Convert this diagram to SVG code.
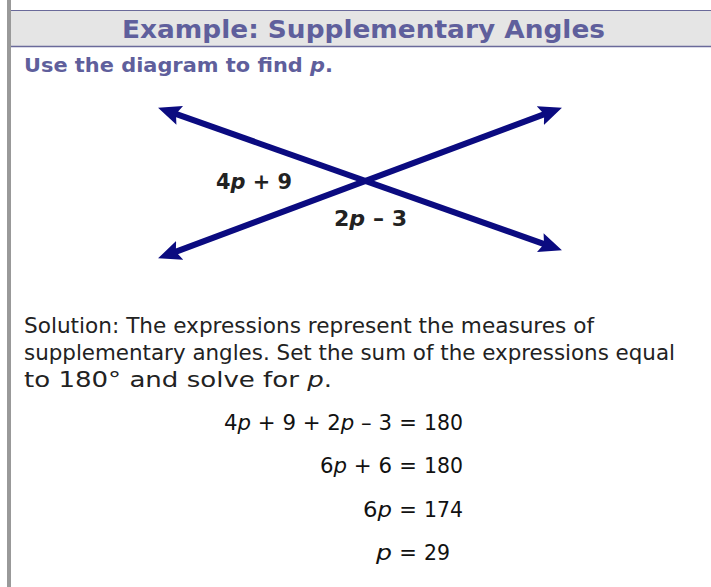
<svg xmlns="http://www.w3.org/2000/svg" width="711" height="587" viewBox="0 0 711 587">
<style>
.title{font-family:"DejaVu Sans","Liberation Sans",sans-serif;font-weight:bold;font-size:25px;fill:#5f5f9c}
.sub{font-family:"DejaVu Sans","Liberation Sans",sans-serif;font-weight:bold;font-size:20px;fill:#5f5f9c}
.lbl{font-family:"DejaVu Sans","Liberation Sans",sans-serif;font-weight:bold;font-size:21px;fill:#222}
.body{font-family:"DejaVu Sans","Liberation Sans",sans-serif;font-size:21px;fill:#222}
.eq{font-family:"DejaVu Sans","Liberation Sans",sans-serif;font-size:21px;fill:#111}
.it{font-style:italic}
.ray{stroke:#0b0b80;stroke-width:6;fill:none}
</style>
<defs>
<marker id="ah" markerUnits="userSpaceOnUse" markerWidth="24" markerHeight="22" viewBox="0 -11 24 22" refX="8" refY="0" orient="auto-start-reverse">
<path d="M0,-10 L23,0 L0,10 L4,0 Z" fill="#0b0b80"/>
</marker>
</defs>
<rect x="0" y="0" width="711" height="587" fill="#fff"/>
<rect x="7" y="0" width="4" height="587" fill="#999"/>
<g id="header">
<rect x="11" y="10" width="700" height="37" fill="#e5e5e5"/>
<line x1="11" y1="10.5" x2="711" y2="10.5" stroke="#6a6a9a" stroke-width="1.2"/>
<line x1="11" y1="46.5" x2="711" y2="46.5" stroke="#6a6a9a" stroke-width="1.5"/>
<text class="title" x="122" y="38" textLength="483" lengthAdjust="spacingAndGlyphs">Example: Supplementary Angles</text>
</g>
<text class="sub" x="24" y="72" textLength="309" lengthAdjust="spacingAndGlyphs">Use the diagram to find <tspan class="it">p</tspan>.</text>
<g id="connectors">
<line class="ray" x1="172.2" y1="112.7" x2="547.8" y2="245.3" marker-start="url(#ah)" marker-end="url(#ah)"/>
<line class="ray" x1="172.1" y1="253.1" x2="547.9" y2="112.9" marker-start="url(#ah)" marker-end="url(#ah)"/>
</g>
<g id="label-4p9"><text class="lbl" x="216" y="189" textLength="76" lengthAdjust="spacingAndGlyphs">4<tspan class="it">p</tspan> + 9</text></g>
<g id="label-2p3"><text class="lbl" x="334" y="226" textLength="73" lengthAdjust="spacingAndGlyphs">2<tspan class="it">p</tspan> – 3</text></g>
<g id="solution">
<text class="body" x="24" y="333" textLength="570" lengthAdjust="spacingAndGlyphs">Solution: The expressions represent the measures of</text>
<text class="body" x="24" y="360" textLength="651" lengthAdjust="spacingAndGlyphs">supplementary angles. Set the sum of the expressions equal</text>
<text class="body" x="24" y="387" textLength="308" lengthAdjust="spacingAndGlyphs">to 180° and solve for <tspan class="it">p</tspan>.</text>
</g>
<g id="equations">
<text class="eq" x="224" y="430" textLength="168" lengthAdjust="spacingAndGlyphs">4<tspan class="it">p</tspan> + 9 + 2<tspan class="it">p</tspan> – 3</text>
<text class="eq" x="408" y="430" text-anchor="middle">=</text>
<text class="eq" x="424" y="430" textLength="39" lengthAdjust="spacingAndGlyphs">180</text>
<text class="eq" x="320" y="473" textLength="72" lengthAdjust="spacingAndGlyphs">6<tspan class="it">p</tspan> + 6</text>
<text class="eq" x="408" y="473" text-anchor="middle">=</text>
<text class="eq" x="424" y="473" textLength="39" lengthAdjust="spacingAndGlyphs">180</text>
<text class="eq" x="363" y="517" textLength="29" lengthAdjust="spacingAndGlyphs">6<tspan class="it">p</tspan></text>
<text class="eq" x="408" y="517" text-anchor="middle">=</text>
<text class="eq" x="424" y="517" textLength="39" lengthAdjust="spacingAndGlyphs">174</text>
<text class="eq" x="376" y="560" textLength="16" lengthAdjust="spacingAndGlyphs"><tspan class="it">p</tspan></text>
<text class="eq" x="408" y="560" text-anchor="middle">=</text>
<text class="eq" x="424" y="560" textLength="26" lengthAdjust="spacingAndGlyphs">29</text>
</g>
</svg>
